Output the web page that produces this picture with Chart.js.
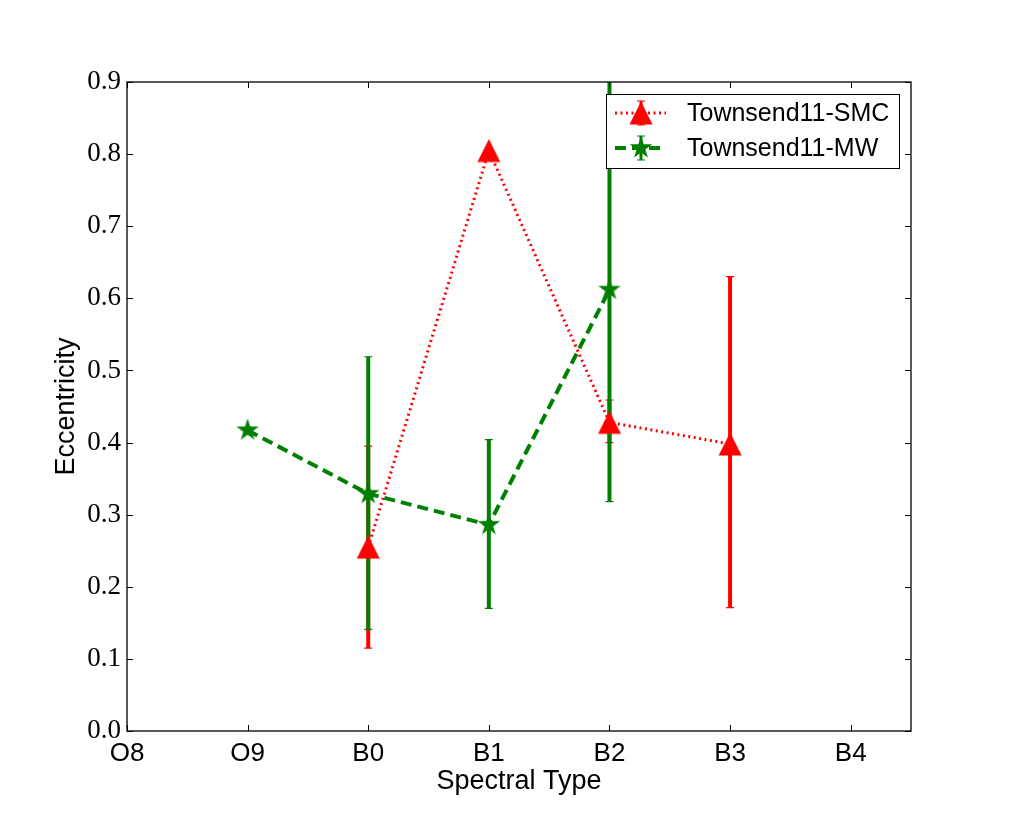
<!DOCTYPE html>
<html>
<head>
<meta charset="utf-8">
<script src="https://cdn.jsdelivr.net/npm/chart.js@4"></script>
<style>
html, body { margin: 0; padding: 0; background: #fff; }
</style>
</head>
<body>
<canvas id="chart" width="1013" height="813"></canvas>
<script>
// categories and tick values
const spectralTypes = ["O8", "O9", "B0", "B1", "B2", "B3", "B4"];
const yTickValues = [0.0, 0.1, 0.2, 0.3, 0.4, 0.5, 0.6, 0.7, 0.8, 0.9];

// Townsend11-SMC
const smcTypes = ["B0", "B1", "B2", "B3"];
const smcEcc = [0.255, 0.805, 0.428, 0.398];
const smcLow = [0.115, null, 0.400, 0.171];
const smcHigh = [0.395, null, 0.459, 0.630];

// Townsend11-MW
const mwTypes = ["O9", "B0", "B1", "B2"];
const mwEcc = [0.417, 0.329, 0.286, 0.612];
const mwLow = [null, 0.141, 0.170, 0.318];
const mwHigh = [null, 0.519, 0.404, 0.906];

const RED = "#ff0000";
const GREEN = "#008000";
const SMC_DASH = [2, 3.5];
const MW_DASH = [11, 6];

function makeTriangle(color) {
    const c = document.createElement("canvas");
    c.width = 26; c.height = 26;
    const g = c.getContext("2d");
    g.fillStyle = color;
    g.beginPath();
    g.moveTo(13, 1.5);
    g.lineTo(24.5, 24.5);
    g.lineTo(1.5, 24.5);
    g.closePath();
    g.fill();
    return c;
}

function makeStar(color) {
    const c = document.createElement("canvas");
    c.width = 28; c.height = 28;
    const g = c.getContext("2d");
    const R = 11.8, r = R * 0.382;
    g.fillStyle = color;
    g.beginPath();
    for (let i = 0; i < 10; i++) {
        const rad = i % 2 ? r : R;
        const a = -Math.PI / 2 + i * Math.PI / 5;
        const px = 14 + rad * Math.cos(a), py = 14 + rad * Math.sin(a);
        if (i === 0) g.moveTo(px, py); else g.lineTo(px, py);
    }
    g.closePath();
    g.fill();
    return c;
}

const triImg = makeTriangle(RED);
const starImg = makeStar(GREEN);

function toPoints(types, vals) {
    return types.map((t, i) => ({ x: spectralTypes.indexOf(t), y: vals[i] }));
}

function drawBars(ctx, x, y, types, low, high, color) {
    ctx.strokeStyle = color;
    types.forEach((t, i) => {
        if (low[i] == null) return;
        const px = x.getPixelForValue(spectralTypes.indexOf(t));
        const y0 = y.getPixelForValue(low[i]);
        const y1 = y.getPixelForValue(high[i]);
        ctx.lineWidth = 4;
        ctx.beginPath();
        ctx.moveTo(px, y0);
        ctx.lineTo(px, y1);
        ctx.stroke();
        ctx.lineWidth = 1.2;
        ctx.beginPath();
        ctx.moveTo(px - 4, y0); ctx.lineTo(px + 4, y0);
        ctx.moveTo(px - 4, y1); ctx.lineTo(px + 4, y1);
        ctx.stroke();
    });
}

function legendRow(ctx, lx, ly, color, width, dash, img, label) {
    ctx.save();
    ctx.strokeStyle = color;
    ctx.lineWidth = width;
    ctx.setLineDash(dash);
    ctx.beginPath();
    ctx.moveTo(lx, ly);
    ctx.lineTo(lx + 51, ly);
    ctx.stroke();
    ctx.setLineDash([]);
    const mx = lx + 26;
    ctx.lineWidth = 3;
    ctx.beginPath();
    ctx.moveTo(mx, ly - 12); ctx.lineTo(mx, ly + 12);
    ctx.stroke();
    ctx.lineWidth = 1.2;
    ctx.beginPath();
    ctx.moveTo(mx - 4, ly - 12); ctx.lineTo(mx + 4, ly - 12);
    ctx.moveTo(mx - 4, ly + 12); ctx.lineTo(mx + 4, ly + 12);
    ctx.stroke();
    ctx.drawImage(img, mx - img.width / 2, ly - img.height / 2);
    ctx.fillStyle = "#000";
    ctx.font = "25px 'Liberation Sans'";
    ctx.textAlign = "left";
    ctx.textBaseline = "middle";
    ctx.fillText(label, lx + 72, ly + 1);
    ctx.restore();
}

const decor = {
    id: "decor",
    beforeDatasetsDraw(chart) {
        const { ctx, chartArea: a, scales: { x, y } } = chart;
        ctx.save();
        ctx.beginPath();
        ctx.rect(a.left, a.top, a.right - a.left, a.bottom - a.top);
        ctx.clip();
        drawBars(ctx, x, y, smcTypes, smcLow, smcHigh, RED);
        drawBars(ctx, x, y, mwTypes, mwLow, mwHigh, GREEN);
        ctx.restore();
    },
    afterDatasetsDraw(chart) {
        const { ctx, chartArea: a, scales: { x, y } } = chart;
        ctx.save();
        ctx.strokeStyle = "#000";
        ctx.lineWidth = 1;
        ctx.beginPath();
        spectralTypes.forEach((t, i) => {
            const px = Math.round(x.getPixelForValue(i)) + 0.5;
            ctx.moveTo(px, a.bottom); ctx.lineTo(px, a.bottom - 6);
            ctx.moveTo(px, a.top); ctx.lineTo(px, a.top + 6);
        });
        yTickValues.forEach(v => {
            const py = Math.round(y.getPixelForValue(v)) + 0.5;
            ctx.moveTo(a.left, py); ctx.lineTo(a.left + 6, py);
            ctx.moveTo(a.right, py); ctx.lineTo(a.right - 6, py);
        });
        ctx.stroke();
        ctx.lineWidth = 1.3;
        ctx.strokeRect(a.left, a.top, a.right - a.left, a.bottom - a.top);

        // legend box
        const bw = 293, bh = 74;
        const bx = a.right - 12 - bw, by = a.top + 12;
        ctx.fillStyle = "#fff";
        ctx.fillRect(bx, by, bw, bh);
        ctx.lineWidth = 1;
        ctx.strokeRect(bx + 0.5, by + 0.5, bw, bh);
        ctx.restore();
        legendRow(ctx, bx + 9, by + 19, RED, 3, SMC_DASH, triImg, "Townsend11-SMC");
        legendRow(ctx, bx + 9, by + 54, GREEN, 4, MW_DASH, starImg, "Townsend11-MW");
    }
};

new Chart(document.getElementById("chart"), {
    type: "line",
    data: {
        datasets: [
            {
                label: "Townsend11-SMC",
                data: toPoints(smcTypes, smcEcc),
                borderColor: RED,
                backgroundColor: RED,
                borderWidth: 3,
                borderDash: SMC_DASH,
                pointStyle: triImg,
                pointRadius: 12,
                fill: false,
                tension: 0,
                order: 1
            },
            {
                label: "Townsend11-MW",
                data: toPoints(mwTypes, mwEcc),
                borderColor: GREEN,
                backgroundColor: GREEN,
                borderWidth: 4,
                borderDash: MW_DASH,
                pointStyle: starImg,
                pointRadius: 12,
                fill: false,
                tension: 0,
                order: 0
            }
        ]
    },
    options: {
        responsive: false,
        animation: false,
        layout: { padding: { top: 82, right: 102, bottom: 0, left: 0 } },
        plugins: {
            legend: { display: false },
            tooltip: { enabled: false }
        },
        scales: {
            x: {
                type: "linear",
                min: 0,
                max: 6.5,
                afterBuildTicks: s => { s.ticks = spectralTypes.map((t, i) => ({ value: i })); },
                afterFit: s => { s.height = 82; },
                grid: { display: false, drawTicks: false },
                border: { display: false },
                ticks: {
                    color: "#000",
                    padding: 7,
                    maxRotation: 0,
                    font: { family: "'Liberation Sans'", size: 26 },
                    callback: v => spectralTypes[v] ?? ""
                },
                title: {
                    display: true,
                    text: "Spectral Type",
                    color: "#000",
                    font: { family: "'Liberation Sans'", size: 27 },
                    padding: { top: 0, bottom: 15 }
                }
            },
            y: {
                min: 0,
                max: 0.9,
                afterBuildTicks: s => { s.ticks = yTickValues.map(v => ({ value: v })); },
                afterFit: s => { s.width = 127; },
                grid: { display: false, drawTicks: false },
                border: { display: false },
                ticks: {
                    color: "#000",
                    padding: 6,
                    font: { family: "'Liberation Serif'", size: 27 },
                    callback: v => v.toFixed(1)
                },
                title: {
                    display: true,
                    text: "Eccentricity",
                    color: "#000",
                    font: { family: "'Liberation Sans'", size: 27 },
                    padding: { top: 50, bottom: 0 }
                }
            }
        }
    },
    plugins: [decor]
});
</script>
</body>
</html>
